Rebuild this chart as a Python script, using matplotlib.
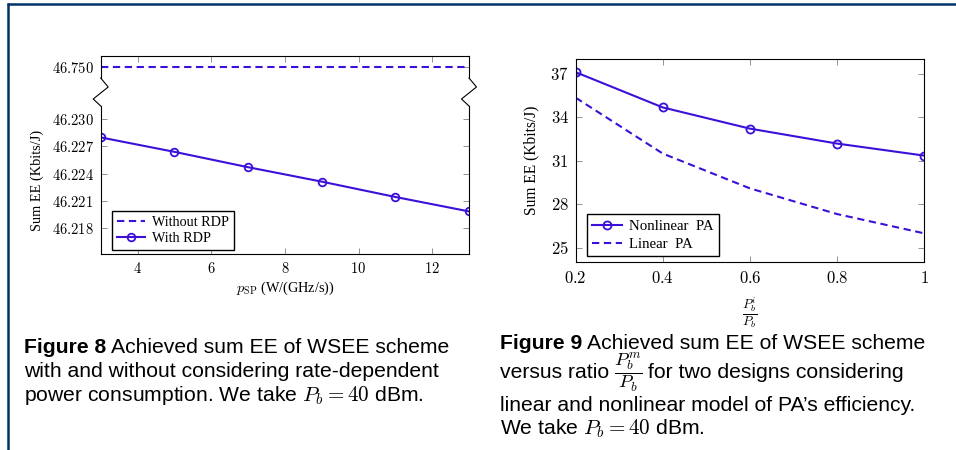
import matplotlib.pyplot as plt
from matplotlib.lines import Line2D

W, H = 956, 450

# Figure 8 data
rdp_x = [3, 5, 7, 9, 11, 13]
with_rdp = [46.2280, 46.2264, 46.2247, 46.2231, 46.2214, 46.2198]
without_rdp = [46.750, 46.750, 46.750, 46.750, 46.750, 46.750]
rdp_xticks = [4, 6, 8, 10, 12]
rdp_yticks = [46.218, 46.221, 46.224, 46.227, 46.230]

# Figure 9 data
ratio = [0.2, 0.4, 0.6, 0.8, 1.0]
nonlinear_pa = [37.11, 34.68, 33.22, 32.19, 31.36]
linear_pa = [35.35, 31.50, 29.10, 27.33, 26.00]
ratio_xticks = [0.2, 0.4, 0.6, 0.8, 1.0]
ratio_xlabels = ["0.2", "0.4", "0.6", "0.8", "1"]
ratio_yticks = [25, 28, 31, 34, 37]

BLUE = "#3c10d8"
NAVY = "#003466"
DASH = (3.5, 2.2)

plt.rcParams["font.family"] = ["Liberation Serif", "DejaVu Serif"]
plt.rcParams["mathtext.fontset"] = "cm"
plt.rcParams["font.size"] = 10


def px_box(x0, y0, x1, y1):
    """Axes rectangle from pixel corners (top-left origin)."""
    return [x0 / W, 1 - y1 / H, (x1 - x0) / W, (y1 - y0) / H]


def style_ticks(ax, size, **kws):
    ax.tick_params(direction="in", length=4.5, width=0.6, color="#808080",
                   labelsize=size, pad=5, right=True, **kws)
    for sp in ax.spines.values():
        sp.set_linewidth(0.8)


fig = plt.figure(figsize=(W / 100, H / 100), dpi=100)

# ---- Figure 8: broken y axis ----
L0, L1 = 100.7, 469.0
ax_top = fig.add_axes(px_box(L0, 56, L1, 78))
ax_bot = fig.add_axes(px_box(L0, 106, L1, 254))

(l_without,) = ax_top.plot(rdp_x, without_rdp, color=BLUE, lw=1.5,
                           ls="--", dashes=DASH)
ax_top.set_xlim(3, 13)
ax_top.set_ylim(46.74874, 46.75119)
ax_top.set_xticks(rdp_xticks)
ax_top.set_yticks([46.750], labels=["$46.750$"])
style_ticks(ax_top, 10.5, top=True, bottom=False, labelbottom=False)
ax_top.spines["bottom"].set_visible(False)

(l_with,) = ax_bot.plot(rdp_x, with_rdp, color=BLUE, lw=1.5, marker="o",
                        ms=5.5, mfc="none", mew=1.3)
ax_bot.set_xlim(3, 13)
ax_bot.set_ylim(46.21508, 46.23148)
ax_bot.set_xticks(rdp_xticks, labels=[f"${v}$" for v in rdp_xticks])
ax_bot.set_yticks(rdp_yticks, labels=[f"${v:.3f}$" for v in rdp_yticks])
style_ticks(ax_bot, 10.5, top=False, bottom=True)
ax_bot.spines["top"].set_visible(False)
ax_bot.set_ylabel("Sum EE (Kbits/J)", fontsize=10.3)
ax_bot.yaxis.set_label_coords(-0.154, 0.5)
ax_bot.set_xlabel(r"$p_{\mathrm{SP}}$ (W/(GHz/s))", fontsize=10.3)
ax_bot.xaxis.set_label_coords(0.5, -0.17)
ax_bot.legend([l_without, l_with], ["Without RDP", "With RDP"],
              loc="lower left", bbox_to_anchor=(0.03, 0.027), borderaxespad=0,
              fancybox=False, edgecolor="black", framealpha=1,
              labelspacing=0.25, handlelength=2.0, borderpad=0.35,
              handletextpad=0.5, fontsize=10.2)

# zigzag break marks on both spines
for x0 in (L0, L1):
    zx = [x0, x0 + 7.5, x0 - 7.5, x0]
    zy = [78, 87, 99, 106]
    fig.add_artist(Line2D([v / W for v in zx], [1 - v / H for v in zy],
                          transform=fig.transFigure, color="black", lw=0.8))

# ---- Figure 9 ----
ax9 = fig.add_axes(px_box(575.7, 59.3, 924.0, 262.3))
ax9.plot(ratio, nonlinear_pa, color=BLUE, lw=1.5, marker="o", ms=5.8,
         mfc="none", mew=1.3, label="Nonlinear  PA")
ax9.plot(ratio, linear_pa, color=BLUE, lw=1.5, ls="--", dashes=DASH,
         label="Linear  PA")
ax9.set_xlim(0.2, 1.0)
ax9.set_ylim(24, 38)
ax9.set_xticks(ratio_xticks, labels=[f"${s}$" for s in ratio_xlabels])
ax9.set_yticks(ratio_yticks, labels=[f"${v}$" for v in ratio_yticks])
style_ticks(ax9, 12, top=True, bottom=True)
ax9.tick_params(axis="x", pad=6)
ax9.set_ylabel("Sum EE (Kbits/J)", fontsize=11.2)
ax9.yaxis.set_label_coords(-0.105, 0.5)
ax9.set_xlabel(r"$\frac{P_b^i}{P_b}$", fontsize=13.5)
ax9.xaxis.set_label_coords(0.5, -0.16)
ax9.legend(loc="lower left", bbox_to_anchor=(0.032, 0.031), borderaxespad=0,
           fancybox=False, edgecolor="black", framealpha=1,
           labelspacing=0.3, handlelength=2.0, borderpad=0.35,
           handletextpad=0.5, fontsize=10.7)

# ---- page frame ----
fig.add_artist(Line2D([7 / W, 1], [1 - 4 / H, 1 - 4 / H],
                      transform=fig.transFigure, color=NAVY, lw=1.8,
                      solid_capstyle="butt"))
fig.add_artist(Line2D([8 / W, 8 / W], [0, 1 - 3 / H],
                      transform=fig.transFigure, color=NAVY, lw=1.8,
                      solid_capstyle="butt"))

# ---- captions ----
CAP = dict(fontsize=15.2, family=["Liberation Sans", "DejaVu Sans"],
           va="baseline", ha="left")
renderer = fig.canvas.get_renderer()


def put_line(x, y, pieces):
    """Write text pieces one after another on a baseline at pixel y."""
    for text, kws in pieces:
        opts = dict(CAP)
        opts.update(kws)
        t = fig.text(x / W, 1 - y / H, text, **opts)
        x = t.get_window_extent(renderer).x1 + 5


BOLD = {"weight": "bold"}
FRAC = {"fontsize": 13.5}

put_line(24, 353, [("Figure 8", BOLD), ("Achieved sum EE of WSEE scheme", {})])
put_line(24, 377, [("with and without considering rate-dependent", {})])
put_line(24, 401, [(r"power consumption. We take $P_b = 40$ dBm.", {})])

put_line(500, 349, [("Figure 9", BOLD), ("Achieved sum EE of WSEE scheme", {})])
put_line(500, 378, [("versus ratio", {}), (r"$\dfrac{P_b^m}{P_b}$", FRAC),
                    ("for two designs considering", {})])
put_line(500, 411, [("linear and nonlinear model of PA\u2019s efficiency.", {})])
put_line(500, 434, [(r"We take $P_b = 40$ dBm.", {})])

fig.savefig("out.png", dpi=100)
